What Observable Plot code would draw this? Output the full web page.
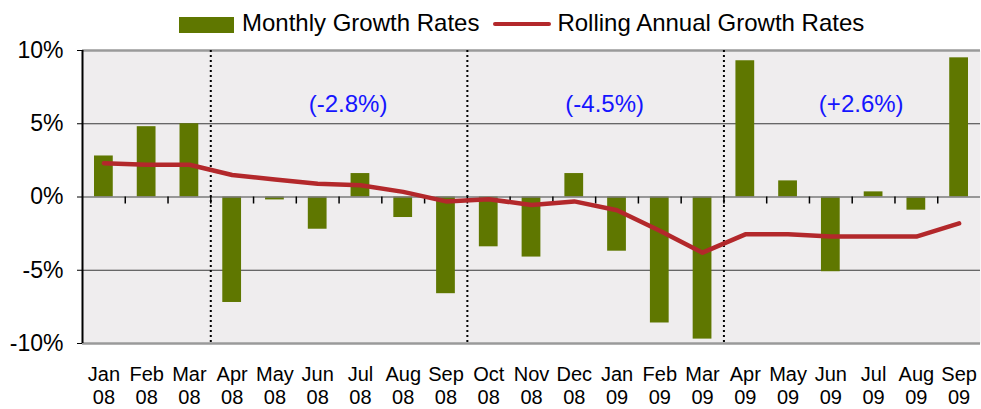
<!DOCTYPE html>
<html>
<head>
<meta charset="utf-8">
<script src="https://cdn.jsdelivr.net/npm/d3@7"></script>
<script src="https://cdn.jsdelivr.net/npm/@observablehq/plot@0.6"></script>
<style>
  body { margin: 0; background: #fff; font-family: "Liberation Sans", Arial, sans-serif; }
  #wrap { position: relative; width: 981px; height: 409px; }
  #legend { position: absolute; top: 9px; left: 179px; display: flex; align-items: center; font-size: 24px; line-height: 28px; color: #000; white-space: nowrap; }
  .sw-bar { width: 55px; height: 16px; background: #5f7700; margin-right: 8px; margin-top: 4px; }
  .sw-line { width: 58px; height: 4px; background: #b3282b; border-radius: 2px; margin-left: 14px; margin-right: 6px; margin-top: 2px; }
</style>
</head>
<body>
<div id="wrap">
  <div id="legend"><div class="sw-bar"></div><span>Monthly Growth Rates</span><div class="sw-line"></div><span>Rolling Annual Growth Rates</span></div>
  <div id="chart"></div>
</div>
<script>
const months = ["Jan","Feb","Mar","Apr","May","Jun","Jul","Aug","Sep","Oct","Nov","Dec","Jan","Feb","Mar","Apr","May","Jun","Jul","Aug","Sep"];
const years  = ["08","08","08","08","08","08","08","08","08","08","08","08","09","09","09","09","09","09","09","09","09"];
const monthlyGrowth = [2.8, 4.8, 5.0, -7.2, -0.2, -2.2, 1.6, -1.4, -6.6, -3.4, -4.1, 1.6, -3.7, -8.6, -9.7, 9.3, 1.1, -5.1, 0.35, -0.9, 9.5];
const rollingAnnual = [2.3, 2.2, 2.2, 1.5, 1.2, 0.9, 0.8, 0.35, -0.3, -0.15, -0.55, -0.3, -0.9, -2.3, -3.8, -2.55, -2.55, -2.7, -2.7, -2.7, -1.8];
const periodStarts = [3, 9, 15];      // first month index of each period
const periodEnds   = [8, 14, 20];     // last month index of each period
const periodLabels = ["(-2.8%)", "(-4.5%)", "(+2.6%)"];
const annotationLevel = 6.3;
const yTicks = [-10, -5, 0, 5, 10];

const data = months.map((m, i) => ({i, m, yr: years[i], g: monthlyGrowth[i], r: rollingAnnual[i]}));
const dividers = periodStarts.map(s => s - 0.5);
const boundaries = d3.range(months.length - 1).map(i => i + 0.5);
const notes = periodLabels.map((t, k) => ({t, x: (periodStarts[k] + periodEnds[k]) / 2, y: annotationLevel}));

const chart = Plot.plot({
  width: 981,
  height: 409,
  marginTop: 50,
  marginBottom: 66,
  marginLeft: 82,
  marginRight: 1,
  style: {fontFamily: '"Liberation Sans", Arial, sans-serif', background: "transparent", overflow: "visible"},
  x: {domain: [-0.5, months.length - 0.5]},
  y: {domain: [-10, 10]},
  marks: [
    Plot.frame({fill: "#efedee", stroke: null}),
    Plot.ruleY([5, -5], {stroke: "#3a3a3a", strokeWidth: 1.2}),
    Plot.rectY(data, {x1: d => d.i - 0.5, x2: d => d.i + 0.5, y1: 0, y2: "g", fill: "#5f7700", insetLeft: 12, insetRight: 12}),
    Plot.ruleY([0], {stroke: "#7a7a7a", strokeWidth: 1.5}),
    Plot.ruleY([10, -10], {stroke: "#9a9a9a", strokeWidth: 2.5}),
    Plot.ruleX(boundaries, {y1: 0, y2: 0, insetBottom: -7, stroke: "#000", strokeWidth: 1.5}),
    Plot.ruleX(dividers, {stroke: "#000", strokeWidth: 2, strokeDasharray: "2,3"}),
    Plot.line(data, {x: "i", y: "r", stroke: "#b3282b", strokeWidth: 4.5, strokeLinejoin: "round", strokeLinecap: "round"}),
    Plot.text(notes, {x: "x", y: "y", text: "t", fill: "#1515ff", fontSize: 24, dx: 9}),
    Plot.ruleX([-0.5], {stroke: "#000", strokeWidth: 2}),
    Plot.axisY({ticks: yTicks, tickFormat: d => d + "%", tickSize: 5, tickPadding: 14, fontSize: 23, stroke: "#000", color: "#000"}),
    Plot.axisX({ticks: d3.range(months.length), tickFormat: i => months[i] + "\n" + years[i], tickSize: 0, tickPadding: 21, fontSize: 20, lineHeight: 1.15, color: "#000"})
  ]
});
document.getElementById("chart").appendChild(chart);
</script>
</body>
</html>
